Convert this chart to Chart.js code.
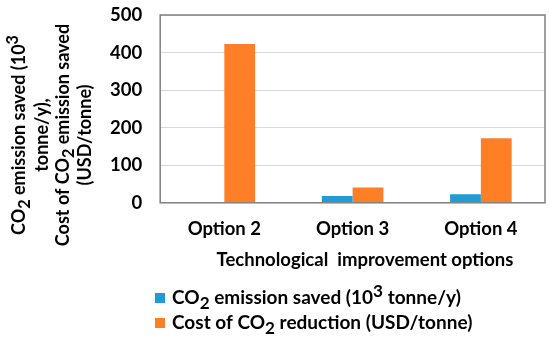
<!DOCTYPE html>
<html>
<head>
<meta charset="utf-8">
<script src="https://cdn.jsdelivr.net/npm/chart.js@4"></script>
<style>
  html, body { margin: 0; padding: 0; background: #fff; }
  #wrap { width: 550px; height: 340px; }
</style>
</head>
<body>
<div id="wrap"><canvas id="chart"></canvas></div>
<script>
const categories = ['Option 2', 'Option 3', 'Option 4'];
const co2Saved = [2, 18, 23];
const costReduction = [423, 41, 172];
const yMax = 500;
const yStep = 100;

const FONT = 'Lato, "Open Sans", sans-serif';

// rich text pieces: sub / sup flags for subscripts and superscripts
const yTitleLines = [
  [{t: 'CO'}, {t: '2', sub: true}, {t: ' emission saved (10'}, {t: '3', sup: true}],
  [{t: 'tonne/y),'}],
  [{t: 'Cost of CO'}, {t: '2', sub: true}, {t: ' emission saved'}],
  [{t: '(USD/tonne)'}]
];
const xTitle = 'Technological  improvement options';
const legendLabels = [
  [{t: 'CO'}, {t: '2', sub: true}, {t: ' emission saved (10'}, {t: '3', sup: true}, {t: ' tonne/y)'}],
  [{t: 'Cost of CO'}, {t: '2', sub: true}, {t: ' reduction (USD/tonne)'}]
];

function richWidth(ctx, parts, size) {
  let w = 0;
  parts.forEach(p => {
    ctx.font = 'bold ' + (p.sub || p.sup ? size * 0.9 : size) + 'px ' + FONT;
    w += ctx.measureText(p.t).width;
  });
  return w;
}

function drawRich(ctx, parts, x, y, size) {
  ctx.textBaseline = 'middle';
  ctx.textAlign = 'left';
  parts.forEach(p => {
    const s = p.sub || p.sup ? size * 0.9 : size;
    ctx.font = 'bold ' + s + 'px ' + FONT;
    const dy = p.sub ? size * 0.3 : (p.sup ? -size * 0.35 : 0);
    ctx.fillText(p.t, x, y + dy);
    x += ctx.measureText(p.t).width;
  });
}

const extras = {
  id: 'extras',
  afterDraw(chart) {
    const ctx = chart.ctx;
    const a = chart.chartArea;
    ctx.save();
    // frame
    ctx.strokeStyle = '#808080';
    ctx.lineWidth = 1.5;
    ctx.strokeRect(a.left, a.top, a.right - a.left, a.bottom - a.top);
    ctx.fillStyle = '#000';

    // y title, rotated
    const cols = [19, 42, 63, 85];
    yTitleLines.forEach((line, i) => {
      const size = 18;
      const w = richWidth(ctx, line, size);
      ctx.save();
      ctx.translate(cols[i], 135);
      ctx.rotate(-Math.PI / 2);
      drawRich(ctx, line, -w / 2, 0, size);
      ctx.restore();
    });

    // x title
    ctx.font = 'bold 18.5px ' + FONT;
    ctx.textAlign = 'center';
    ctx.textBaseline = 'middle';
    ctx.fillText(xTitle, 365, 260);

    // legend
    legendLabels.forEach((lab, i) => {
      const y = 298 + i * 25;
      ctx.fillStyle = chart.data.datasets[i].backgroundColor;
      ctx.fillRect(155, y - 5, 10, 10);
      ctx.fillStyle = '#000';
      drawRich(ctx, lab, 172, y, 19);
    });
    ctx.restore();
  }
};

new Chart(document.getElementById('chart'), {
  type: 'bar',
  data: {
    labels: categories,
    datasets: [
      {label: 'CO2 emission saved (10^3 tonne/y)', data: co2Saved, backgroundColor: '#1f9bd7'},
      {label: 'Cost of CO2 reduction (USD/tonne)', data: costReduction, backgroundColor: '#ff7f27'}
    ]
  },
  options: {
    responsive: true,
    maintainAspectRatio: false,
    animation: false,
    layout: {padding: {left: 92, right: 5, top: 15, bottom: 85}},
    datasets: {bar: {barPercentage: 1, categoryPercentage: 0.48}},
    plugins: {legend: {display: false}, tooltip: {enabled: false}},
    scales: {
      x: {
        grid: {display: false, drawTicks: false},
        border: {display: false},
        ticks: {color: '#000', padding: 15, font: {family: FONT, size: 18.5, weight: 'bold'}}
      },
      y: {
        min: 0, max: yMax,
        grid: {color: '#d9d9d9', drawTicks: false},
        border: {display: false},
        ticks: {stepSize: yStep, color: '#000', padding: 18, font: {family: FONT, size: 18.5, weight: 'bold'}},
        afterFit(scale) { scale.paddingTop = 0; }
      }
    }
  },
  plugins: [extras]
});
</script>
</body>
</html>
